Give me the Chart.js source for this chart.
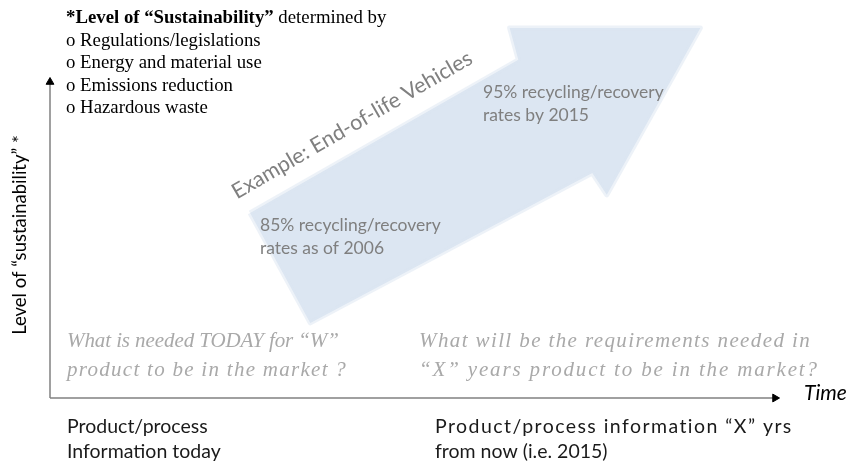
<!DOCTYPE html>
<html>
<head>
<meta charset="utf-8">
<script src="https://cdn.jsdelivr.net/npm/chart.js@4.4.1/dist/chart.umd.min.js"></script>
<style>
  html, body { margin: 0; padding: 0; background: #fff; }
</style>
</head>
<body>
<canvas id="myChart" width="853" height="464"></canvas>
<script>
// big arrow outline (tail -> notch -> head -> notch -> tail), plot units
const arrowX = [27.6, 64.6, 63.4, 89.7, 76.8, 74.8, 35.9, 27.6];
const arrowY = [50.0, 91.4, 100, 100, 54.9, 60.8, 20.3, 50.0];

// axis lines
const timeAxisX = [0, 100];
const timeAxisY = [0, 0];
const levelAxisX = [0, 0];
const levelAxisY = [0, 85.4];

// texts
const criteriaTitleBold = '*Level of \u201cSustainability\u201d';
const criteriaTitleRest = ' determined by';
const criteria = ['o Regulations/legislations', 'o Energy and material use', 'o Emissions reduction', 'o Hazardous waste'];
const exampleLabel = 'Example: End-of-life Vehicles';
const startRate = ['85% recycling/recovery', 'rates as of 2006'];
const endRate = ['95% recycling/recovery', 'rates by 2015'];
const questionToday = ['What is needed TODAY for \u201cW\u201d', 'product to be in the market ?'];
const questionFuture = ['What will be the requirements needed in', '\u201cX\u201d years product to be in the market?'];
const infoToday = ['Product/process', 'Information today'];
const infoFuture = ['Product/process information \u201cX\u201d yrs', 'from now (i.e. 2015)'];
const yTitle = 'Level of \u201csustainability\u201d *';
const xTitle = 'Time';

function pts(xs, ys) {
  return xs.map((x, i) => ({ x: x, y: ys[i] }));
}

const SANS = 'Lato, "Open Sans", sans-serif';
const SERIF = '"Liberation Serif", "DejaVu Serif", serif';

// the original used wider faces (Garamond / Calibri): spread a line to its width
function fitText(ctx, text, x, y, width) {
  const m = ctx.measureText(text).width;
  ctx.save();
  if ('letterSpacing' in ctx) {
    ctx.letterSpacing = ((width - m) / text.length).toFixed(2) + 'px';
    ctx.fillText(text, x, y);
  } else {
    ctx.translate(x, y);
    ctx.scale(width / m, 1);
    ctx.fillText(text, 0, 0);
  }
  ctx.restore();
}

const textPlugin = {
  id: 'diagramText',
  afterDraw(chart) {
    const ctx = chart.ctx;
    ctx.save();
    ctx.textBaseline = 'middle';
    ctx.textAlign = 'left';

    // criteria box
    ctx.fillStyle = '#000';
    ctx.font = 'bold 18.8px ' + SERIF;
    ctx.fillText(criteriaTitleBold, 66, 18);
    const w = ctx.measureText(criteriaTitleBold).width;
    ctx.font = '18.8px ' + SERIF;
    ctx.fillText(criteriaTitleRest, 66 + w, 18);
    criteria.forEach((t, i) => ctx.fillText(t, 66, 41 + i * 22.5));

    // arrow labels
    ctx.fillStyle = '#7f7f7f';
    ctx.font = '17.5px ' + SANS;
    startRate.forEach((t, i) => ctx.fillText(t, 260, 225 + i * 23));
    endRate.forEach((t, i) => ctx.fillText(t, 483, 92 + i * 23));

    ctx.save();
    ctx.translate(352, 125);
    ctx.rotate(-30 * Math.PI / 180);
    ctx.textAlign = 'center';
    ctx.font = '21.5px ' + SANS;
    ctx.fillStyle = '#808080';
    ctx.fillText(exampleLabel, 0, 0);
    ctx.restore();

    // questions
    ctx.fillStyle = '#a9a9a9';
    ctx.font = 'italic 21px ' + SERIF;
    fitText(ctx, questionToday[0], 67, 341, 272);
    fitText(ctx, questionToday[1], 67, 370, 280);
    fitText(ctx, questionFuture[0], 419, 341, 392);
    fitText(ctx, questionFuture[1], 419, 370, 400);

    // bottom info
    ctx.fillStyle = '#1a1a1a';
    ctx.font = '19.5px ' + SANS;
    infoToday.forEach((t, i) => ctx.fillText(t, 67, 427 + i * 25));
    fitText(ctx, infoFuture[0], 435, 427, 358);
    ctx.fillText(infoFuture[1], 435, 452);

    // axis titles
    ctx.fillStyle = '#000';
    ctx.font = 'italic 21px ' + SANS;
    ctx.fillText(xTitle, 804, 393);

    ctx.save();
    ctx.translate(20, 235);
    ctx.rotate(-Math.PI / 2);
    ctx.textAlign = 'center';
    ctx.font = '18.5px ' + SANS;
    ctx.fillText(yTitle, 0, 0);
    ctx.restore();

    ctx.restore();
  }
};

const ctx = document.getElementById('myChart').getContext('2d');
const myChart = new Chart(ctx, {
  type: 'scatter',
  data: {
    datasets: [
      {
        label: 'Sustainability trend',
        data: pts(arrowX, arrowY),
        showLine: true,
        fill: 'shape',
        backgroundColor: 'rgba(220, 230, 242, 1)',
        borderColor: 'rgba(220, 230, 242, 0.5)',
        borderWidth: 5,
        borderJoinStyle: 'round',
        pointRadius: 0,
        tension: 0,
        clip: false,
        order: 3
      },
      {
        label: 'Time axis',
        data: pts(timeAxisX, timeAxisY),
        showLine: true,
        fill: false,
        borderColor: '#808080',
        borderWidth: 1.5,
        pointStyle: 'triangle',
        pointRadius: [0, 4.5],
        rotation: 90,
        pointBackgroundColor: '#000',
        pointBorderColor: '#000',
        pointBorderWidth: 1,
        clip: false,
        order: 1
      },
      {
        label: 'Level axis',
        data: pts(levelAxisX, levelAxisY),
        showLine: true,
        fill: false,
        borderColor: '#808080',
        borderWidth: 1.5,
        pointStyle: 'triangle',
        pointRadius: [0, 4.5],
        rotation: 0,
        pointBackgroundColor: '#000',
        pointBorderColor: '#000',
        pointBorderWidth: 1,
        clip: false,
        order: 1
      }
    ]
  },
  options: {
    responsive: false,
    animation: false,
    devicePixelRatio: 1,
    layout: {
      padding: { left: 50, right: 78, top: 9.5, bottom: 66 }
    },
    scales: {
      x: { type: 'linear', min: 0, max: 100, display: false },
      y: { type: 'linear', min: 0, max: 105, display: false }
    },
    plugins: {
      legend: { display: false },
      tooltip: { enabled: false }
    }
  },
  plugins: [textPlugin]
});
</script>
</body>
</html>
